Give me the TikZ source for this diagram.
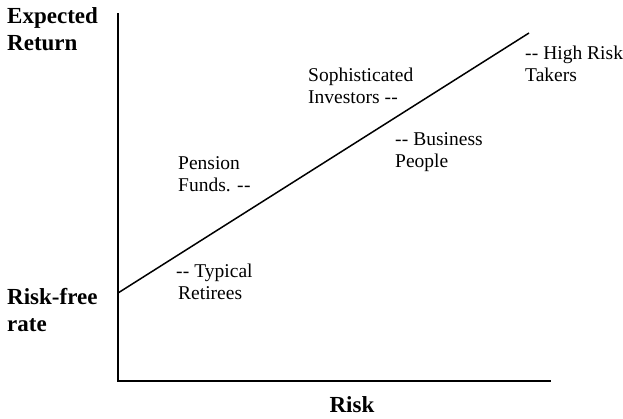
\documentclass[tikz,border=0pt]{standalone}
\usepackage{fontspec}
\setmainfont{Liberation Serif}
\newcommand{\dd}{-\kern0.3pt-}
\begin{document}
\begin{tikzpicture}[x=1pt,y=-1pt,
  axis/.style={line width=1.6pt},
  cml/.style={line width=1.5pt},
  boldlbl/.style={font=\fontsize{23}{27}\selectfont\bfseries, align=left, inner sep=0pt},
  lbl/.style={font=\fontsize{19.5}{22}\selectfont, align=left, inner sep=0pt, anchor=west}]
\useasboundingbox (0,0) rectangle (623,418);
\coordinate (top) at (118,13);
\coordinate (origin) at (118,381);
\coordinate (xend) at (551,381);
\coordinate (rf) at (118,293);
\coordinate (hr) at (529,33);
\draw[axis] (top) -- (origin) -- (xend);
\draw[cml] (rf) -- (hr);
\node[boldlbl, anchor=west] (er) at (7,29) {Expected\\Return};
\node[boldlbl, anchor=west] (rfr) at (7,310) {Risk-free\\rate};
\node[boldlbl] (risk) at (352,405) {Risk};
\node[lbl] (pf) at (178,174) {Pension\\Funds. \dd};
\node[lbl] (tr) at (176,282) {\dd{} Typical\\\hspace*{2pt}Retirees};
\node[lbl] (si) at (308,86) {Sophisticated\\Investors \dd};
\node[lbl] (bp) at (395,152) {\dd{} Business\\People};
\node[lbl] (hrt) at (525,64) {\dd{} High Risk\\Takers};
\end{tikzpicture}
\end{document}
